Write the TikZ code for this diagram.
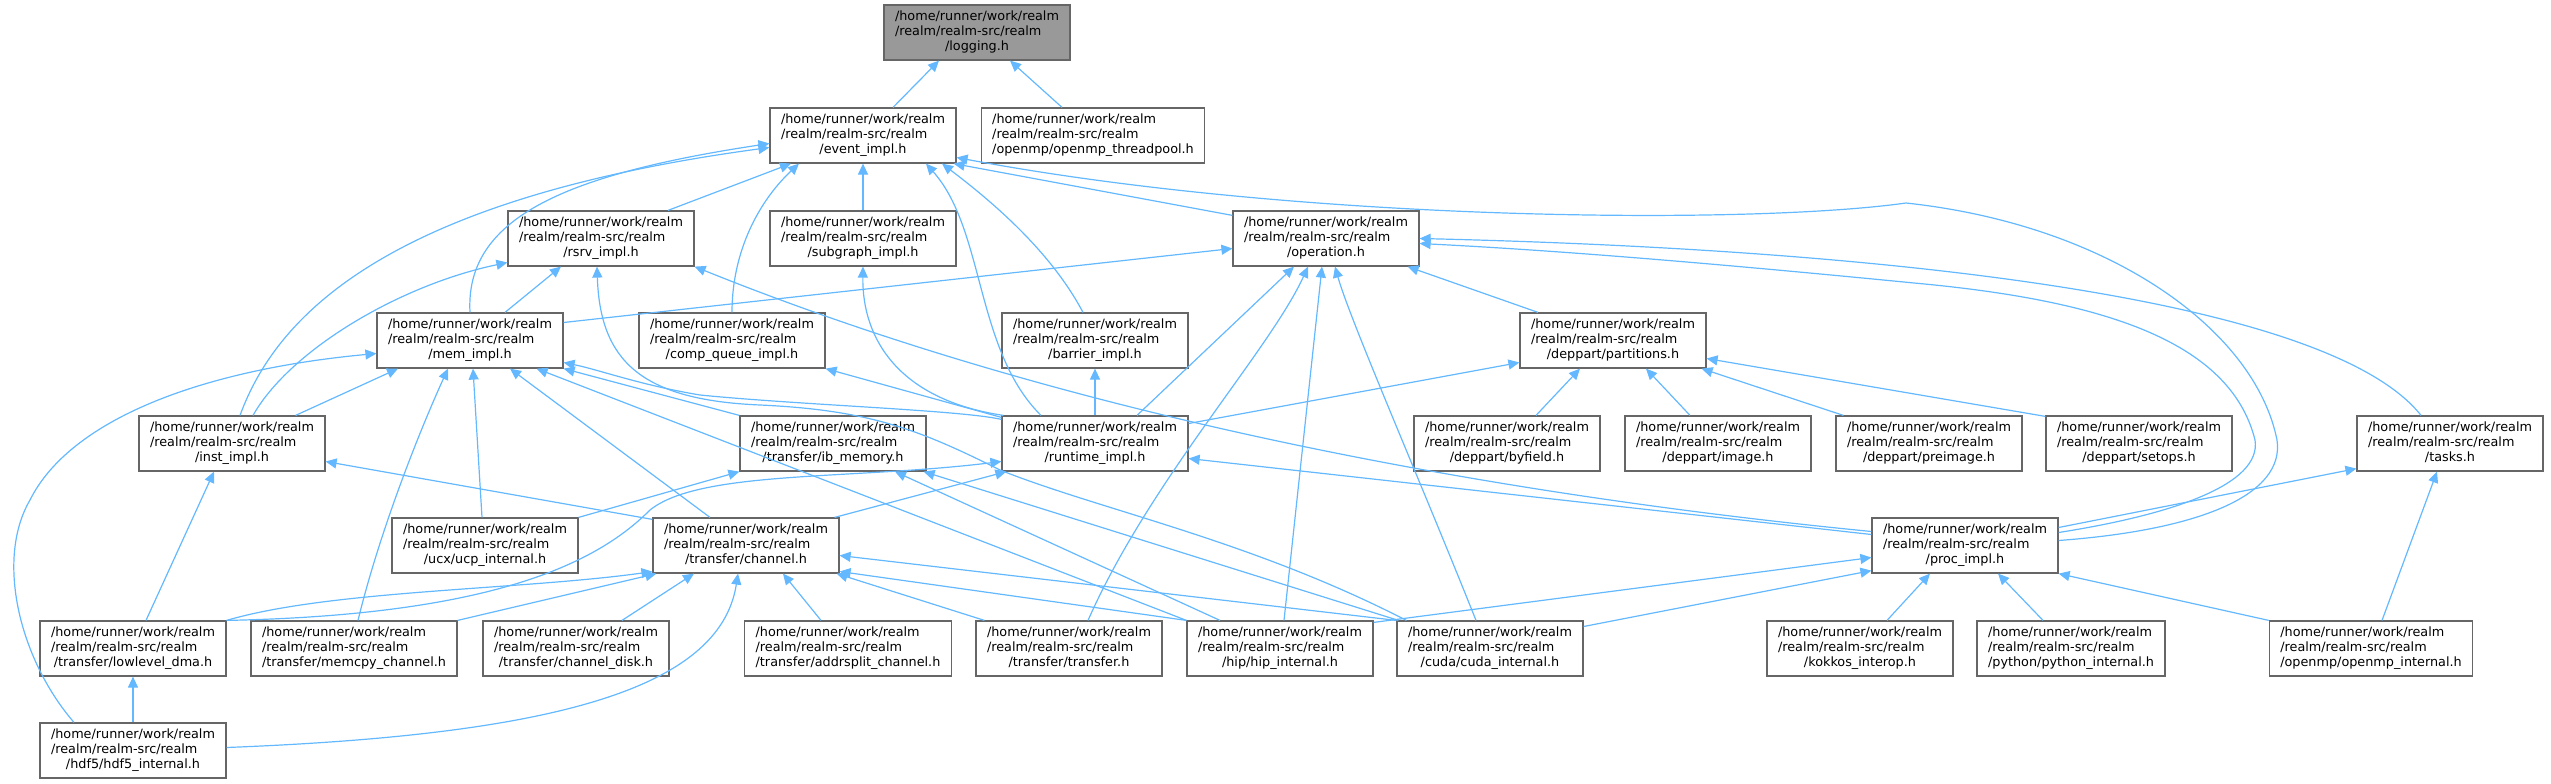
\documentclass[tikz,border=0pt]{standalone}
\usepackage{fontspec}
\usepackage{tikz}
\usetikzlibrary{arrows.meta,calc}
\newfontfamily\graphfont{DejaVu Sans}
\definecolor{edgeblue}{HTML}{63B8FF}
\definecolor{boxgray}{HTML}{666666}
\definecolor{curgray}{HTML}{999999}
\newcommand{\realmfile}[1]{\begin{tabular}{@{}l@{}}/home/runner/work/realm\\/realm/realm-src/realm\\\multicolumn{1}{@{}c@{}}{#1}\end{tabular}}

\begin{document}
\begin{tikzpicture}[
  x=1pt, y=-1pt,
  filebox/.style={
    draw=boxgray,
    fill=white,
    line width=1.2pt,
    inner xsep=11pt,
    inner ysep=0pt,
    minimum height=55pt,
    font=\graphfont\fontsize{12.8}{14.8}\selectfont
  },
  curfile/.style={
    filebox,
    fill=curgray
  },
  incl/.style={
    draw=edgeblue,
    line width=1.2pt,
    -{Triangle[length=11pt,width=10pt]}
  }
]
\useasboundingbox (0,0) rectangle (2551,784);

% Rows 0-2
\node[curfile] (logging) at (977,32.5) {\realmfile{/logging.h}};
\node[filebox] (evt) at (863,135.5) {\realmfile{/event\_impl.h}};
\node[filebox] (ompthr) at (1093,135.5) {\realmfile{/openmp/openmp\_threadpool.h}};
\node[filebox] (rsrv) at (601,238.5) {\realmfile{/rsrv\_impl.h}};
\node[filebox] (subgraph) at (863,238.5) {\realmfile{/subgraph\_impl.h}};
\node[filebox] (oper) at (1326,238.5) {\realmfile{/operation.h}};

% Row 3
\node[filebox] (mem) at (470,340.5) {\realmfile{/mem\_impl.h}};
\node[filebox] (compq) at (732,340.5) {\realmfile{/comp\_queue\_impl.h}};
\node[filebox] (barrier) at (1095,340.5) {\realmfile{/barrier\_impl.h}};
\node[filebox] (parts) at (1613,340.5) {\realmfile{/deppart/partitions.h}};

% Row 4
\node[filebox] (inst) at (232,443.5) {\realmfile{/inst\_impl.h}};
\node[filebox] (ibmem) at (833,443.5) {\realmfile{/transfer/ib\_memory.h}};
\node[filebox] (runtime) at (1095,443.5) {\realmfile{/runtime\_impl.h}};
\node[filebox] (byfield) at (1507,443.5) {\realmfile{/deppart/byfield.h}};
\node[filebox] (image) at (1718,443.5) {\realmfile{/deppart/image.h}};
\node[filebox] (preimage) at (1929,443.5) {\realmfile{/deppart/preimage.h}};
\node[filebox] (setops) at (2139,443.5) {\realmfile{/deppart/setops.h}};
\node[filebox] (tasks) at (2450,443.5) {\realmfile{/tasks.h}};

% Row 5
\node[filebox] (ucp) at (485,545.5) {\realmfile{/ucx/ucp\_internal.h}};
\node[filebox] (channel) at (746,545.5) {\realmfile{/transfer/channel.h}};
\node[filebox] (proc) at (1965,545.5) {\realmfile{/proc\_impl.h}};

% Rows 6-7
\node[filebox] (lldma) at (133,648.5) {\realmfile{/transfer/lowlevel\_dma.h}};
\node[filebox] (memcpy) at (354,648.5) {\realmfile{/transfer/memcpy\_channel.h}};
\node[filebox] (chdisk) at (576,648.5) {\realmfile{/transfer/channel\_disk.h}};
\node[filebox] (addrsplit) at (848,648.5) {\realmfile{/transfer/addrsplit\_channel.h}};
\node[filebox] (transfer) at (1069,648.5) {\realmfile{/transfer/transfer.h}};
\node[filebox] (hip) at (1280,648.5) {\realmfile{/hip/hip\_internal.h}};
\node[filebox] (cuda) at (1490,648.5) {\realmfile{/cuda/cuda\_internal.h}};
\node[filebox] (kokkos) at (1860,648.5) {\realmfile{/kokkos\_interop.h}};
\node[filebox] (python) at (2071,648.5) {\realmfile{/python/python\_internal.h}};
\node[filebox] (ompint) at (2371,648.5) {\realmfile{/openmp/openmp\_internal.h}};
\node[filebox] (hdf5) at (133,750.5) {\realmfile{/hdf5/hdf5\_internal.h}};

% Includes of logging.h and event_impl.h
\draw[incl] ($(evt.north)+(30,0)$) -- ($(logging.south)+(-38,0)$);
\draw[incl] ($(ompthr.north)+(-31,0)$) -- ($(logging.south)+(33,0)$);
\draw[incl] ($(rsrv.north)+(67,0)$) -- ($(evt.south)+(-72,0)$);
\draw[incl] (subgraph.north) -- (evt.south);
\draw[incl] ($(oper.north west)+(0,5)$) -- ($(evt.south east)+(-3,0)$);
\draw[incl] (mem.north) .. controls (465,220) and (560,175) .. ($(evt.west)+(0,8)$);
\draw[incl] ($(inst.north)+(8,0)$) .. controls (275,320) and (380,200) .. ($(evt.west)+(0,12)$);
\draw[incl] (compq.north) .. controls (732,250) and (760,200) .. ($(evt.south)+(-64,0)$);
\draw[incl] ($(runtime.north)+(-54,0)$) .. controls (975,350) and (985,230) .. ($(evt.south)+(63,0)$);
\draw[incl] ($(barrier.north)+(-12,0)$) .. controls (1050,250) and (990,200) .. ($(evt.south)+(79,0)$);
\draw[incl] ($(proc.east)+(0,-5)$) .. controls (2200,530) and (2285,495) .. (2277,440)
  .. controls (2255,330) and (2110,225) .. (1906,203)
  .. controls (1750,225) and (1300,222) .. ($(evt.east)+(0,22)$);

% Includes of operation.h
\draw[incl] ($(mem.east)+(0,-18)$) -- ($(oper.west)+(0,10)$);
\draw[incl] ($(runtime.north)+(42,0)$) -- ($(oper.south)+(-32,0)$);
\draw[incl] ($(transfer.north)+(19,0)$) .. controls (1150,480) and (1270,350) .. ($(oper.south)+(-18,0)$);
\draw[incl] ($(hip.north)+(4,0)$) -- ($(oper.south)+(-4,0)$);
\draw[incl] ($(cuda.north)+(-14,0)$) .. controls (1420,480) and (1350,320) .. ($(oper.south)+(9,0)$);
\draw[incl] ($(parts.north)+(-75,0)$) -- ($(oper.south east)+(-12,0)$);
\draw[incl] ($(proc.east)+(0,-13)$) .. controls (2170,515) and (2262,485) .. (2255,440)
  .. controls (2230,340) and (2100,300) .. (1914,283)
  .. controls (1700,262) and (1550,250) .. ($(oper.east)+(0,5)$);
\draw[incl] ($(tasks.north)+(-29,0)$) .. controls (2330,300) and (1900,250) .. (oper.east);

% Includes of rsrv_impl.h
\draw[incl] ($(mem.north)+(35,0)$) -- ($(rsrv.south)+(-40,0)$);
\draw[incl] ($(inst.north)+(21,0)$) .. controls (290,350) and (400,285) .. ($(rsrv.west)+(0,24)$);
\draw[incl] ($(proc.west)+(0,-14)$) .. controls (1550,500) and (1100,430) .. (rsrv.south east);
\draw[incl] ($(cuda.north west)+(10,0)$) .. controls (1250,540) and (1100,510) .. (1000,470)
  .. controls (920,430) and (870,410) .. (760,405)
  .. controls (640,400) and (600,360) .. ($(rsrv.south)+(-4,0)$);

% Includes of runtime_impl.h and partitions.h
\draw[incl] ($(proc.west)+(0,-11)$) -- ($(runtime.east)+(0,15)$);
\draw[incl] (lldma.north east) .. controls (500,615) and (600,560) .. (650,510)
  .. controls (700,470) and (850,480) .. ($(runtime.west)+(0,18)$);
\draw[incl] ($(channel.north east)+(-5,0)$) -- ($(runtime.south west)+(5,0)$);
\draw[incl] ($(runtime.north west)+(2,0)$) .. controls (900,400) and (862,340) .. (subgraph.south);
\draw[incl] ($(runtime.north west)+(0,2)$) -- (compq.south east);
\draw[incl] ($(runtime.north west)+(0,4)$) .. controls (960,410) and (800,405) .. (700,395)
  .. controls (640,385) and (600,370) .. ($(mem.east)+(0,22)$);
\draw[incl] (runtime.north) -- (barrier.south);
\draw[incl] ($(runtime.east)+(0,-20)$) -- ($(parts.west)+(0,22)$);
\draw[incl] ($(byfield.north)+(29,0)$) -- ($(parts.south)+(-33,0)$);
\draw[incl] ($(image.north)+(-28,0)$) -- ($(parts.south)+(33,0)$);
\draw[incl] ($(preimage.north west)+(8,0)$) -- ($(parts.south east)+(-5,0)$);
\draw[incl] ($(setops.north west)+(0,1)$) -- ($(parts.east)+(0,18)$);

% Includes of mem_impl.h
\draw[incl] ($(hdf5.north)+(-59,0)$) .. controls (20,660) and (-5,560) .. (30,500)
  .. controls (70,420) and (200,370) .. ($(mem.west)+(0,13)$);
\draw[incl] ($(inst.north east)+(-30,0)$) -- ($(mem.south)+(-72,0)$);
\draw[incl] ($(memcpy.north)+(4,0)$) .. controls (380,530) and (420,430) .. ($(mem.south)+(-22,0)$);
\draw[incl] ($(ucp.north)+(-3,0)$) -- ($(mem.south)+(3,0)$);
\draw[incl] ($(channel.north)+(-36,0)$) -- ($(mem.south)+(40,0)$);
\draw[incl] (hip.north west) -- ($(mem.south east)+(-27,0)$);
\draw[incl] (ibmem.north west) -- (mem.south east);

% Includes of inst_impl.h, lowlevel_dma.h and ib_memory.h
\draw[incl] ($(channel.north west)+(0,2)$) -- ($(inst.east)+(0,18)$);
\draw[incl] ($(lldma.north)+(13,0)$) -- ($(inst.south)+(-18,0)$);
\draw[incl] (hdf5.north) -- (lldma.south);
\draw[incl] (ucp.north east) -- (ibmem.south west);
\draw[incl] ($(hip.north)+(-60,0)$) -- ($(ibmem.south)+(62,0)$);
\draw[incl] ($(cuda.north west)+(2,0)$) -- ($(ibmem.south east)+(-3,0)$);

% Includes of channel.h
\draw[incl] (lldma.north east) .. controls (330,590) and (520,590) .. ($(channel.south west)+(0,-2)$);
\draw[incl] (memcpy.north east) -- ($(channel.south west)+(4,0)$);
\draw[incl] ($(chdisk.north)+(46,0)$) -- ($(channel.south)+(-52,0)$);
\draw[incl] ($(addrsplit.north)+(-27,0)$) -- ($(channel.south)+(37,0)$);
\draw[incl] ($(hdf5.east)+(0,-3)$) .. controls (550,735) and (720,690) .. ($(channel.south)+(-8,0)$);
\draw[incl] ($(transfer.north west)+(9,0)$) -- ($(channel.south east)+(-3,0)$);
\draw[incl] (hip.north west) -- ($(channel.east)+(0,26)$);
\draw[incl] (cuda.north west) -- ($(channel.east)+(0,10)$);

% Includes of proc_impl.h and tasks.h
\draw[incl] ($(kokkos.north)+(27,0)$) -- ($(proc.south)+(-35,0)$);
\draw[incl] ($(python.north)+(-28,0)$) -- ($(proc.south)+(33,0)$);
\draw[incl] (ompint.north west) -- (proc.south east);
\draw[incl] ($(hip.north east)+(0,2)$) -- ($(proc.west)+(0,12)$);
\draw[incl] ($(cuda.east)+(0,-22)$) -- ($(proc.south west)+(0,-3)$);
\draw[incl] ($(proc.east)+(0,-18)$) -- ($(tasks.south west)+(0,-3)$);
\draw[incl] ($(ompint.north)+(11,0)$) -- ($(tasks.south)+(-13,0)$);

\end{tikzpicture}
\end{document}
